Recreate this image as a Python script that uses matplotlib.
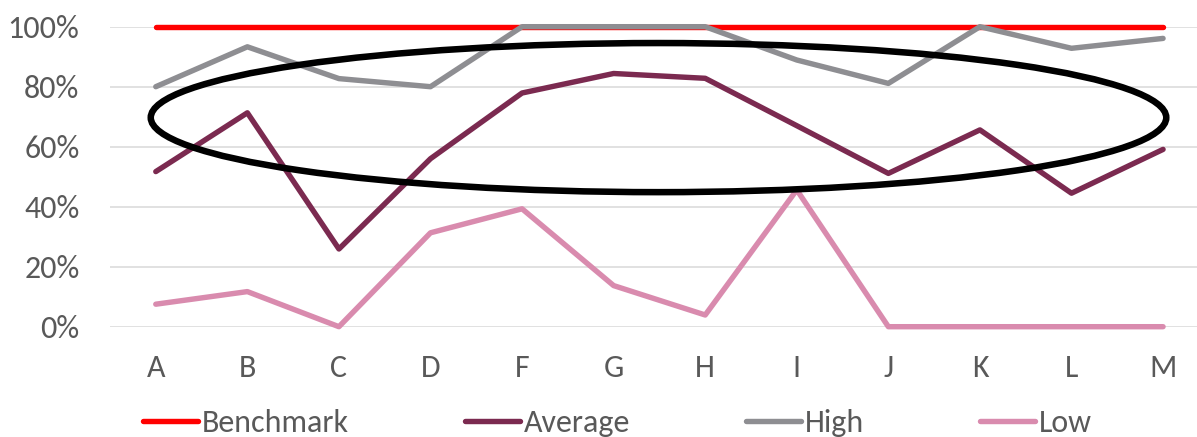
import matplotlib
matplotlib.use("Agg")
import matplotlib.pyplot as plt
from matplotlib.patches import Ellipse
from matplotlib.ticker import PercentFormatter

categories = ["A", "B", "C", "D", "F", "G", "H", "I", "J", "K", "L", "M"]
benchmark = [1.0, 1.0, 1.0, 1.0, 1.0, 1.0, 1.0, 1.0, 1.0, 1.0, 1.0, 1.0]
average = [0.517, 0.713, 0.259, 0.560, 0.779, 0.844, 0.828, 0.670, 0.511, 0.656, 0.445, 0.591]
high = [0.800, 0.933, 0.827, 0.800, 1.0, 1.0, 1.0, 0.889, 0.811, 1.0, 0.928, 0.961]
low = [0.075, 0.117, 0.0, 0.313, 0.393, 0.137, 0.039, 0.456, 0.0, 0.0, 0.0, 0.0]

series = [
    ("Benchmark", benchmark, "#ff0000"),
    ("Average", average, "#7b2a50"),
    ("High", high, "#8e8e92"),
    ("Low", low, "#d98bae"),
]

text_color = "#595959"
plt.rcParams["font.family"] = ["Carlito", "Liberation Sans", "DejaVu Sans"]
plt.rcParams["font.size"] = 23

fig = plt.figure(figsize=(11.97, 4.37), dpi=100)
ax = fig.add_axes([0.0919, 0.2524, 0.918, 0.6865])

x = range(len(categories))
lw = 3.9
for name, vals, color in series:
    ax.plot(x, vals, color=color, lw=lw, label=name,
            solid_capstyle="round", solid_joinstyle="round", clip_on=False)

# highlight ring around the upper band
ring = Ellipse((5.49, 0.697), 11.09, 0.497, fill=False,
               edgecolor="black", lw=4.7, clip_on=False, zorder=5)
ax.add_patch(ring)

ax.set_xlim(-0.5, 11.5)
ax.set_ylim(0, 1)
ax.set_xticks(list(x))
ax.set_xticklabels(categories)
ax.set_yticks([0, 0.2, 0.4, 0.6, 0.8, 1.0])
ax.yaxis.set_major_formatter(PercentFormatter(1.0, decimals=0))
ax.tick_params(axis="both", length=0, colors=text_color)
ax.tick_params(axis="y", pad=22)
ax.tick_params(axis="x", pad=20)

ax.grid(axis="y", color="#d9d9d9", lw=1.1)
ax.set_axisbelow(True)
for s in ax.spines.values():
    s.set_visible(False)

fig.legend(loc="center left", bbox_to_anchor=(143 / 1197, 0.032),
           ncol=4, frameon=False, borderpad=0, borderaxespad=0,
           handlelength=1.72, handletextpad=0.125, columnspacing=3.63,
           labelcolor=text_color)

fig.savefig("out.png", dpi=100)
